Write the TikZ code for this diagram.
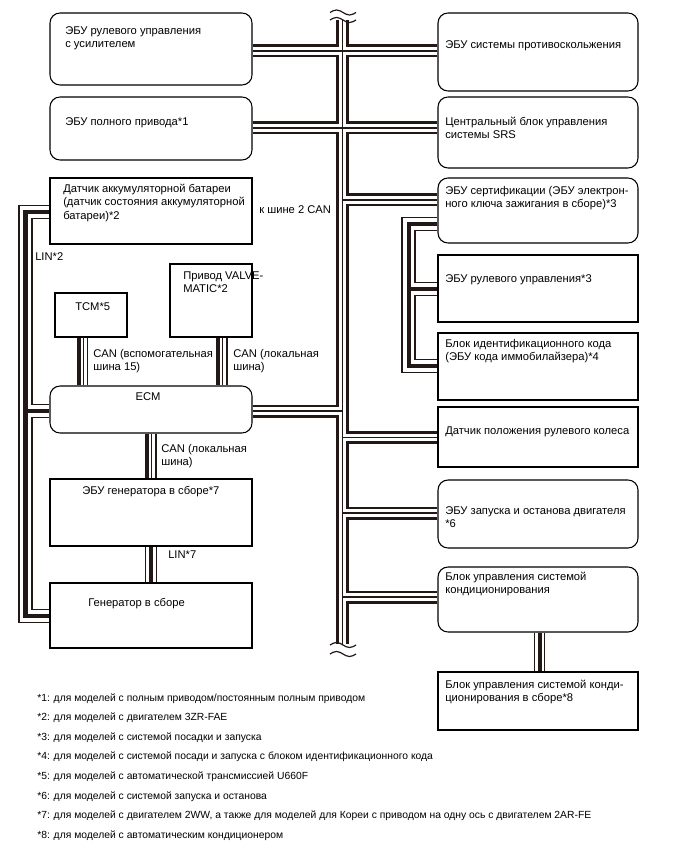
\documentclass[tikz,border=0pt]{standalone}
\usepackage{fontspec}
\setmainfont{Liberation Sans}
\usetikzlibrary{calc,backgrounds}
\definecolor{bus}{RGB}{35,24,21}
\newcommand\bfs{\fontsize{8.4pt}{10.2pt}\selectfont}
\newcommand\ffs{\fontsize{7.75pt}{10pt}\selectfont}
\newcommand\topstr{\rule{0pt}{8pt}}
\begin{document}
\begin{tikzpicture}[x=0.75pt,y=-0.75pt,
  box/.style={draw=black, line width=0.8pt, fill=white, inner sep=0pt, rectangle},
  rbox/.style={box, rounded corners=7.5pt},
  txt/.style={anchor=north west, inner sep=0pt, align=left, font=\bfs, yshift=8pt},
  fnote/.style={anchor=base west, inner sep=0pt, font=\ffs},
  canbus/.style={draw=bus, line width=9.75pt, line join=miter,
     postaction={draw=white, line width=5.6pt},
     postaction={draw=bus, line width=0.9pt}},
  linbus/.style={draw=bus, line width=10.9pt, line join=miter,
     postaction={draw=white, line width=8.6pt},
     postaction={draw=bus, line width=3.2pt}},
  linnar/.style={draw=bus, line width=8.6pt,
     postaction={draw=white, line width=6.8pt},
     postaction={draw=bus, line width=3pt}},
  cthk/.style={draw=bus, line width=3.2pt},
  cthn/.style={draw=bus, line width=0.9pt},
  tld/.style={draw=bus, line width=0.9pt}
]
\useasboundingbox (0,0) rectangle (688,852);

% ---------- left column ----------
\node[rbox, minimum width=151.5pt, minimum height=54pt] (l1) at (151,49) {};
\node[rbox, minimum width=151.5pt, minimum height=47.25pt] (l2) at (151,128.5) {};
\node[box, minimum width=151.5pt, minimum height=49.5pt] (bat) at (151,211) {};
\node[box, minimum width=54pt, minimum height=33pt] (tcm) at (91,315) {};
\node[box, minimum width=61.5pt, minimum height=54.75pt] (valve) at (211,300.5) {};
\node[rbox, minimum width=151.5pt, minimum height=35.25pt] (ecm) at (151,409.5) {};
\node[box, minimum width=151.5pt, minimum height=50.25pt] (genecu) at (151,512.5) {};
\node[box, minimum width=151.5pt, minimum height=48.75pt] (gen) at (151,615.5) {};

% ---------- right column ----------
\node[rbox, minimum width=150pt, minimum height=58.5pt] (r1) at (538,52) {};
\node[rbox, minimum width=150pt, minimum height=53.25pt] (r2) at (538,132.5) {};
\node[rbox, minimum width=150pt, minimum height=48.75pt] (r3) at (538,210.5) {};
\node[box, minimum width=150pt, minimum height=50.25pt] (r4) at (538,288.5) {};
\node[box, minimum width=150pt, minimum height=50.25pt] (r5) at (538,366.5) {};
\node[box, minimum width=150pt, minimum height=45pt] (r6) at (538,437) {};
\node[rbox, minimum width=150pt, minimum height=51pt] (r7) at (538,514) {};
\node[rbox, minimum width=150pt, minimum height=48.75pt] (r8) at (538,599.5) {};
\node[box, minimum width=150pt, minimum height=43.5pt] (r9) at (538,701) {};

% ---------- bus coordinates ----------
\coordinate (ttop) at (342.5,20);
\coordinate (tbot) at (342.5,644);
\coordinate (b1) at (342.5,51);
\coordinate (b2) at (342.5,128);
\coordinate (b3) at (342.5,200);
\coordinate (b4) at (342.5,411);
\coordinate (b5) at (342.5,437.5);
\coordinate (b6) at (342.5,513);
\coordinate (b7) at (342.5,597);
\coordinate (lt) at (25.5,212);
\coordinate (lm) at (25.5,411);
\coordinate (lb) at (25.5,616);
\coordinate (s1) at (408.7,224);
\coordinate (s2) at (408.7,289);
\coordinate (s3) at (408.7,366);
\coordinate (t1) at ($(tcm.south west)+(24.5,0)$);
\coordinate (t2) at ($(tcm.south west)+(29.2,0)$);
\coordinate (t3) at ($(tcm.south west)+(33.3,0)$);
\coordinate (v1) at ($(valve.south west)+(48.8,0)$);
\coordinate (v2) at ($(valve.south west)+(53,0)$);
\coordinate (v3) at ($(valve.south west)+(57.5,0)$);
\coordinate (e1) at ($(ecm.south)+(-4,0)$);
\coordinate (e2) at ($(ecm.south)+(0.3,0)$);
\coordinate (e3) at ($(ecm.south)+(5,0)$);
\coordinate (a1) at ($(r8.south)+(1.5,0)$);

\begin{scope}[on background layer]
\path[canbus] (ttop) -- (tbot)
  (l1.east |- b1) -- (r1.west |- b1)
  (l2.east |- b2) -- (r2.west |- b2)
  (b3) -- (r3.west |- b3)
  (ecm.east |- b4) -- (b4)
  (b5) -- (r6.west |- b5)
  (b6) -- (r7.west |- b6)
  (b7) -- (r8.west |- b7);
\path[linbus] (bat.west |- lt) -- (lt) -- (lb) -- (gen.west |- lb)
  (lm) -- (ecm.west |- lm);
\path[linbus] (r3.west |- s1) -- (s1) -- (s3) -- (r5.west |- s3)
  (s2) -- (r4.west |- s2);
\path[linnar] (genecu.south) -- (gen.north);
\path[linnar] (a1) -- (a1 |- r9.north);
\path[cthk] (t1) -- (t1 |- ecm.north);
\path[cthn] (t2) -- (t2 |- ecm.north);
\path[cthn] (t3) -- (t3 |- ecm.north);
\path[cthk] (v1) -- (v1 |- ecm.north);
\path[cthn] (v2) -- (v2 |- ecm.north);
\path[cthn] (v3) -- (v3 |- ecm.north);
\path[cthk] (e1) -- (e1 |- genecu.north);
\path[cthn] (e2) -- (e2 |- genecu.north);
\path[cthn] (e3) -- (e3 |- genecu.north);
\end{scope}

% break marks
\path[tld] (330,12.5) sin (336.5,10) cos (343,12.5) sin (349.5,15) cos (356,12.5);
\path[tld] (330,20) sin (336.5,17.5) cos (343,20) sin (349.5,22.5) cos (356,20);
\path[tld] (330,645) sin (336.5,642.5) cos (343,645) sin (349.5,647.5) cos (356,645);
\path[tld] (330,654) sin (336.5,651.5) cos (343,654) sin (349.5,656.5) cos (356,654);

% ---------- texts ----------
\node[txt] at (65,34) {\topstr ЭБУ рулевого управления\\с усилителем};
\node[txt] at (65,125) {\topstr ЭБУ полного привода*1};
\node[txt] at (63,192) {\topstr Датчик аккумуляторной батареи\\(датчик состояния аккумуляторной\\батареи)*2};
\node[txt] at (259,213) {\topstr к шине 2 CAN};
\node[txt] at (35,260) {\topstr LIN*2};
\node[txt] at (75,310) {\topstr TCM*5};
\node[txt] at (183,279) {\topstr Привод VALVE-\\MATIC*2};
\node[txt] at (93,357) {\topstr CAN (вспомогательная\\шина 15)};
\node[txt] at (233,357) {\topstr CAN (локальная\\шина)};
\node[font=\bfs, anchor=base, inner sep=0pt] at (148,400) {ECM};
\node[txt] at (161,452) {\topstr CAN (локальная\\шина)};
\node[txt] at (82,494) {\topstr ЭБУ генератора в сборе*7};
\node[txt] at (168,558) {\topstr LIN*7};
\node[txt] at (88,606) {\topstr Генератор в сборе};

\node[txt] at (445,48) {\topstr ЭБУ системы противоскольжения};
\node[txt] at (445,125) {\topstr Центральный блок управления\\системы SRS};
\node[txt] at (445,194) {\topstr ЭБУ сертификации (ЭБУ электрон-\\ного ключа зажигания в сборе)*3};
\node[txt] at (445,282) {\topstr ЭБУ рулевого управления*3};
\node[txt] at (445,347) {\topstr Блок идентификационного кода\\(ЭБУ кода иммобилайзера)*4};
\node[txt] at (445,434) {\topstr Датчик положения рулевого колеса};
\node[txt] at (445,514) {\topstr ЭБУ запуска и останова двигателя\\*6};
\node[txt] at (445,580) {\topstr Блок управления системой\\кондиционирования};
\node[txt] at (445,688) {\topstr Блок управления системой конди-\\ционирования в сборе*8};

% ---------- footnotes ----------
\node[fnote] at (37,701) {*1: для моделей с полным приводом/постоянным полным приводом};
\node[fnote] at (37,720) {*2: для моделей с двигателем 3ZR-FAE};
\node[fnote] at (37,740) {*3: для моделей с системой посадки и запуска};
\node[fnote] at (37,759) {*4: для моделей с системой посади и запуска с блоком идентификационного кода};
\node[fnote] at (37,779) {*5: для моделей с автоматической трансмиссией U660F};
\node[fnote] at (37,799) {*6: для моделей с системой запуска и останова};
\node[fnote] at (37,818) {*7: для моделей с двигателем 2WW, а также для моделей для Кореи с приводом на одну ось с двигателем 2AR-FE};
\node[fnote] at (37,838) {*8: для моделей с автоматическим кондиционером};
\end{tikzpicture}
\end{document}
